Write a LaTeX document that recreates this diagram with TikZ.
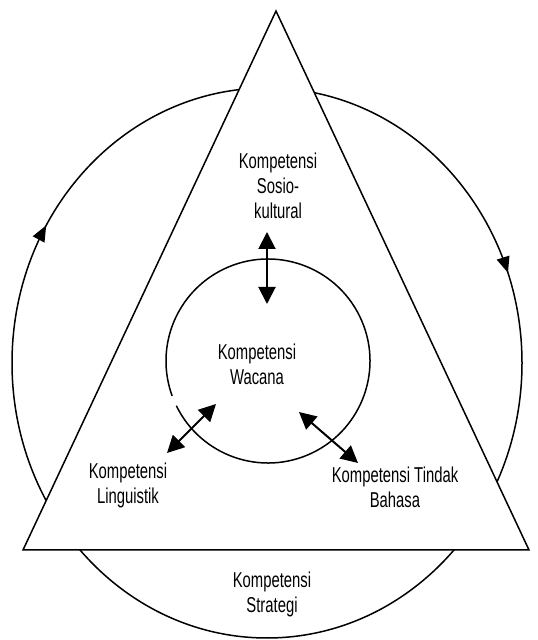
\documentclass[tikz,border=0pt]{standalone}
\usepackage{fontspec}
\usepackage{tikz}
\usetikzlibrary{arrows.meta, decorations.markings}
\newfontfamily\narrowsans{Liberation Sans}[FakeStretch=0.69]
\tikzset{
  outline/.style={line width=1.5pt},
  textlabel/.style={font=\narrowsans\fontsize{21.5}{25}\selectfont, align=center, inner sep=0pt},
  duoarrow/.style={{Triangle[length=17pt,width=17pt]}-{Triangle[length=17pt,width=17pt]}, line width=2pt},
  cyclepath/.style={outline, postaction={decorate}, decoration={markings,
      mark=at position 0.055 with {\arrowreversed{Triangle[length=16pt,width=13pt]}},
      mark=at position 0.414 with {\arrowreversed{Triangle[length=16pt,width=13pt]}}}}
}

\begin{document}
\begin{tikzpicture}[x=1pt, y=1pt]
  \useasboundingbox (0,0) rectangle (538,640);

  % outer cycle
  \draw[cyclepath] (267,277) ellipse [x radius=255, y radius=275];

  % triangle
  \coordinate (apex) at (276,629);
  \coordinate (baseleft) at (23,90);
  \coordinate (baseright) at (529,90);
  \draw[outline, fill=white] (apex) -- (baseleft) -- (baseright) -- cycle;

  % inner circle
  \coordinate (core) at (268,279);
  \draw[outline] (core) ++(206:102) arc (206:560:102);

  \node[textlabel] at (278,454) (sosio) {Kompetensi\\Sosio-\\kultural};
  \node[textlabel] at (257,276) (wacana) {Kompetensi\\Wacana};
  \node[textlabel] at (128,155) (linguistik) {Kompetensi\\Linguistik};
  \node[textlabel] at (395,153) (tindak) {Kompetensi Tindak\\Bahasa};
  \node[textlabel] at (272,46) (strategi) {Kompetensi\\Strategi};

  \coordinate (s1) at (267,408);
  \coordinate (s2) at (267,336);
  \coordinate (l1) at (216,236);
  \coordinate (l2) at (167,187);
  \coordinate (t1) at (299,228);
  \coordinate (t2) at (358,177);
  \draw[duoarrow] (s1) -- (s2);
  \draw[duoarrow] (l1) -- (l2);
  \draw[duoarrow] (t1) -- (t2);
\end{tikzpicture}
\end{document}
